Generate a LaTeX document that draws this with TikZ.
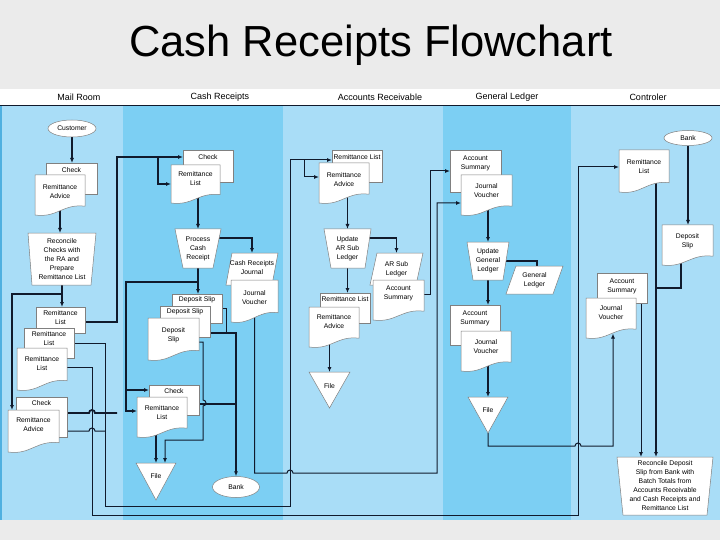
\documentclass[tikz,border=0pt]{standalone}
\usepackage{fontspec}
\setmainfont{Liberation Sans}
\usetikzlibrary{arrows.meta,calc,shapes.geometric}
\definecolor{bgray}{HTML}{EBEBEB}
\definecolor{laneA}{HTML}{A9DDF7}
\definecolor{laneB}{HTML}{7CCFF3}
\definecolor{ink}{HTML}{101A2C}
\definecolor{edgeblue}{HTML}{4FB0E0}
\pgfdeclarelayer{bg}
\pgfdeclarelayer{lines}
\pgfsetlayers{bg,lines,main}
\tikzset{
  flow/.style={draw=ink, line width=1.8pt},
  flowthin/.style={draw=ink, line width=1.0pt},
  arr/.style={-{Latex[length=5pt,width=4pt]}},
  shapeline/.style={draw=black!50, line width=0.5pt, fill=white},
  lbl/.style={font=\fontsize{6.8}{9}\selectfont, align=center, inner sep=0pt},
  nbox/.style={draw=none, inner sep=0pt, outer sep=0pt},
  ell/.style={lbl, ellipse, draw=black!50, line width=0.5pt, fill=white},
  lanetitle/.style={font=\fontsize{9}{11}\selectfont, inner sep=0pt},
}
% rectangular document: name x0 y0 x1 y1 texty text
\newcommand\docR[7]{%
  \node[nbox, minimum width={#4-#2}, minimum height={#5-#3}] (#1) at ({(#2+#4)/2},{(#3+#5)/2}) {};
  \draw[shapeline] (#1.north west) rectangle (#1.south east);
  \node[lbl] (#1-t) at ({(#2+#4)/2},#6) {#7};
}
% document with wavy bottom
\newcommand\docW[7]{%
  \node[nbox, minimum width={#4-#2}, minimum height={#5-#3}] (#1) at ({(#2+#4)/2},{(#3+#5)/2}) {};
  \draw[shapeline] (#2,#5) -- (#2,#3) -- (#4,#3) -- (#4,{#5-0.22*(#5-#3)})
     .. controls ({#2+0.55*(#4-#2)},{#5-0.286*(#5-#3)}) and ({#2+0.45*(#4-#2)},{#5+0.077*(#5-#3)}) .. (#2,#5) -- cycle;
  \node[lbl] (#1-t) at ({(#2+#4)/2},#6) {#7};
}
% manual operation: name xt0 xt1 yt xb0 xb1 yb text
\newcommand\manop[8]{%
  \draw[shapeline] (#2,#4) -- (#3,#4) -- (#6,#7) -- (#5,#7) -- cycle;
  \node[lbl, nbox, minimum width={#3-#2}, minimum height={#7-#4}] (#1) at ({(#2+#3)/2},{(#4+#7)/2}) {#8};
}
% parallelogram: name xt0 xt1 yt slant yb texty text
\newcommand\para[8]{%
  \draw[shapeline] (#2,#4) -- (#3,#4) -- ({#3-#5},#6) -- ({#2-#5},#6) -- cycle;
  \node[nbox, minimum width={#3-#2+#5}, minimum height={#6-#4}] (#1) at ({(#2+#3-#5)/2},{(#4+#6)/2}) {};
  \node[lbl] (#1-t) at ({(#2+#3-#5)/2},#7) {#8};
}
% file triangle: name x0 x1 yt yapex texty
\newcommand\filetri[6]{%
  \node[nbox, minimum width={#3-#2}, minimum height={#5-#4}] (#1) at ({(#2+#3)/2},{(#4+#5)/2}) {};
  \draw[shapeline] (#1.north west) -- (#1.north east) -- (#1.south) -- cycle;
  \node[lbl] (#1-t) at ({(#2+#3)/2},#6) {File};
}
\begin{document}
\begin{tikzpicture}[x=1pt,y=-1pt]
\useasboundingbox (0,0) rectangle (720,540);
\begin{pgfonlayer}{bg}
  \fill[bgray] (0,0) rectangle (720,540);
  \fill[white] (0,89) rectangle (720,105);
  \fill[laneA] (0,105) rectangle (123,520);
  \fill[laneB] (123,105) rectangle (283,520);
  \fill[laneA] (283,105) rectangle (443,520);
  \fill[laneB] (443,105) rectangle (571,520);
  \fill[laneA] (571,105) rectangle (720,520);
  \fill[edgeblue] (0,105) rectangle (2,520);
  \draw[ink, line width=0.8pt] (0,105) -- (720,105);
\end{pgfonlayer}

\node[font=\fontsize{43.5}{50}\selectfont, inner sep=0pt] (title) at (371,45) {Cash Receipts Flowchart};

\node[lanetitle] (h1) at (79,97) {Mail Room};
\node[lanetitle] (h2) at (220,97) {Cash Receipts};
\node[lanetitle] (h3) at (380,97) {Accounts Receivable};
\node[lanetitle] (h4) at (507,97) {General Ledger};
\node[lanetitle] (h5) at (648,97) {Controler};

% ---------- Mail Room ----------
\node[ell, minimum width=48, minimum height=17] (cust) at (72,128.5) {Customer};
\docR{chk1}{46}{163}{97}{194}{170}{Check}
\docW{ra1}{35}{175}{85}{215}{192}{Remittance\\Advice}
\manop{rec1}{28}{96}{233}{32}{91}{285}{Reconcile\\Checks with\\the RA and\\Prepare\\Remittance List}
\docR{rl1}{36}{307}{85}{333}{318}{Remittance\\List}
\docR{rl2}{24}{328}{74}{358}{339}{Remittance\\List}
\docW{rl3}{17}{348}{67}{390}{364}{Remittance\\List}
\docR{chk2}{16}{397}{67}{437}{403}{Check}
\docW{ra2}{8}{410}{59}{452}{425}{Remittance\\Advice}

% ---------- Cash Receipts ----------
\docR{chk3}{183}{150}{233}{182}{157}{Check}
\docW{rl4}{171}{165}{220}{203}{178.5}{Remittance\\List}
\manop{proc}{175}{221}{229}{183}{213}{268}{Process\\Cash\\Receipt}
\para{crj}{232}{278}{253}{6}{285}{268}{Cash Receipts\\Journal}
\docW{jv1}{231}{280}{278}{322}{297.5}{Journal\\Voucher}
\docR{ds1}{172}{294}{222}{323}{299.5}{Deposit Slip}
\docR{ds2}{160}{306}{210}{337}{312}{Deposit Slip}
\docW{ds3}{148}{318}{199}{360}{335}{Deposit\\Slip}
\docR{chk4}{149}{385}{199}{415}{391}{Check}
\docW{rl5}{137}{397}{187}{437}{413}{Remittance\\List}
\filetri{file1}{136}{176}{463}{500}{476}
\node[ell, minimum width=47, minimum height=21] (bank1) at (236,487) {Bank};

% ---------- Accounts Receivable ----------
\docR{rl6}{332}{150}{382}{182}{157}{Remittance List}
\docW{ra3}{319}{163}{369}{203}{179.5}{Remittance\\Advice}
\manop{upd1}{324}{371}{229}{331}{365}{268}{Update\\AR Sub\\Ledger}
\para{arsl}{377}{423}{253}{7}{285}{269}{AR Sub\\Ledger}
\docW{as1}{373}{280}{424}{320}{293}{Account\\Summary}
\docR{rl7}{320}{293}{370}{323}{299.5}{Remittance List}
\docW{ra4}{309}{307}{359}{347}{322}{Remittance\\Advice}
\filetri{file2}{309}{350}{372}{408}{386}

% ---------- General Ledger ----------
\docR{as2}{450}{150}{501}{192}{163.5}{Account\\Summary}
\docW{jv2}{461}{175}{512}{215}{190.5}{Journal\\Voucher}
\manop{upd2}{467}{509}{242}{473}{503}{280}{Update\\General\\Ledger}
\para{gl}{516}{563}{266}{10}{294}{280}{General\\Ledger}
\docR{as3}{450}{305}{500}{345}{318}{Account\\Summary}
\docW{jv3}{461}{331}{511}{371}{346.5}{Journal\\Voucher}
\filetri{file3}{468}{508}{397}{433}{410}

% ---------- Controller ----------
\node[ell, minimum width=48, minimum height=15] (bank2) at (688,138) {Bank};
\docW{rl8}{619}{150}{669}{192}{167}{Remittance\\List}
\docW{ds4}{662}{225}{713}{265}{241.5}{Deposit\\Slip}
\docR{as4}{597}{273}{647}{303}{286}{Account\\Summary}
\docW{jv4}{586}{298}{636}{338}{313}{Journal\\Voucher}
\manop{rec2}{617}{713}{457}{623}{707}{515}{Reconcile Deposit\\Slip from Bank with\\Batch Totals from\\Accounts Receivable\\and Cash Receipts and\\Remittance List}

\coordinate (rlx) at ([xshift=12pt]rl8.center);
\coordinate (asx) at ([xshift=19pt]as4.center);

% ---------- connectors ----------
\begin{pgfonlayer}{lines}
  % mail room
  \draw[flow,arr] (cust.south) -- (cust.south |- chk1.north);
  \draw[flow,arr] (ra1.center) -- (ra1.center |- rec1.north);
  \draw[flow,arr] (rec1.center) -- (rec1.center |- rl1.north);
  \draw[flow,arr] (rec1.south) -- ++(0,9) -| ([xshift=4pt]ra2.north west);
  \draw[flow,arr] (rl1.center) -- ++(0,2) -| (117,157) -- ([yshift=9pt]chk3.west);
  \draw[flow,arr] (158,157) |- (rl4.west);
  \draw[flow] (chk2.center) -- ++(0,-4) -- (89,413) arc[start angle=180,end angle=0,radius=3pt] -- (117,413);
  \draw[flowthin,arr] (rl2.center) -| (105,506) -| (290,160) -- ([yshift=6pt]rl6.west);
  \draw[flowthin,arr] (304,160) |- ([yshift=6pt]ra3.west);
  \draw[flowthin] (ra2.center) -- (89,431) arc[start angle=180,end angle=0,radius=3pt] -- (105,431);
  \draw[flowthin,arr] (rl3.center) -- ++(0,-2) -| (92,515) -| (578,167) -- ([yshift=4pt]rl8.west);
  % cash receipts
  \draw[flow,arr] (proc.north |- rl4.center) -- (proc.north);
  \draw[flow,arr] (proc.center) -- ++(0,-10.5) -| (crj.north);
  \draw[flow,arr] (proc.center) -- (proc.center |- ds1.north);
  \draw[flow,arr] (proc.south) -- ++(0,14) -| (126,411) -- ([yshift=6pt]rl5.west);
  \draw[flow,arr] (126,390) -- ([yshift=10pt]chk4.west);
  \draw[flowthin] (ds1.center) -- (226,308.5) -- (226,333);
  \draw[flow,arr] (ds2.center) -- ++(0,11.5) -| (bank1.north);
  \draw[flowthin,arr] (ds3.center) -- ++(0,3) -| (203,400) arc[start angle=90,end angle=-90,radius=3pt] -- (203,440) -| ([xshift=9pt]file1.north);
  \draw[flow] (chk4.center) -- ++(0,4) -- (236,404);
  \draw[flow,arr] (rl5.center -| file1.north) -- (file1.north);
  \draw[flowthin,arr] (jv1.center) |- (287,473) arc[start angle=180,end angle=0,radius=3pt] -- (437,473) |- ([yshift=-8pt]jv2.west);
  % accounts receivable
  \draw[flow,arr] (upd1.north |- ra3.center) -- (upd1.north);
  \draw[flow,arr] (upd1.center) -- ++(0,-10.5) -| (arsl.north);
  \draw[flow,arr] (upd1.center) -- (upd1.center |- rl7.north);
  \draw[flow,arr] (file2.north |- ra4.center) -- (file2.north);
  \draw[flowthin,arr] (as1.center) -- ++(0,-6) -| (430,171) -- (as2.west);
  % general ledger
  \draw[flow,arr] (upd2.north |- jv2.center) -- (upd2.north);
  \draw[flow] (upd2.center) -| ([xshift=2.5pt]gl.north);
  \draw[flow,arr] (upd2.center) -- (upd2.center |- as3.north);
  \draw[flow,arr] (file3.north |- jv3.center) -- (file3.north);
  \draw[flowthin,arr] (file3.south) |- (575,446) arc[start angle=180,end angle=0,radius=3pt] -- (613,446) -- ([xshift=2pt,yshift=4.5pt]jv4.south);
  % controller
  \draw[flow,arr] (bank2.south) -- (bank2.south |- ds4.north);
  \draw[flow,arr] (rlx) -- (rlx |- rec2.north);
  \draw[flow] (ds4.center) -- ++(-6.5,0) -- ++(0,43) -- (rlx |- 0,288);
  \draw[flowthin,arr] (asx) -- (asx |- rec2.north);
\end{pgfonlayer}
\end{tikzpicture}
\end{document}
